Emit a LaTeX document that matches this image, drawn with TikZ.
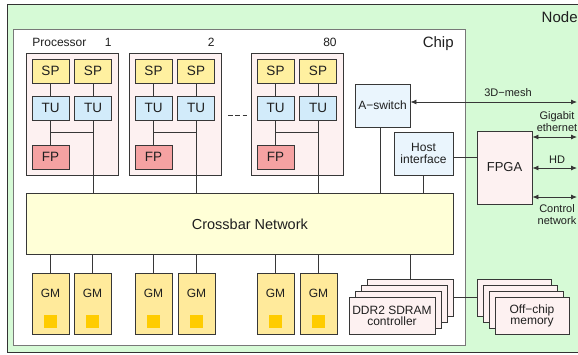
\documentclass[tikz,border=0pt]{standalone}
\usepackage{fontspec}
\setmainfont{Liberation Sans}
\usetikzlibrary{arrows.meta}

\definecolor{nodebg}{RGB}{214,250,214}
\definecolor{chipline}{RGB}{120,120,120}
\definecolor{drawline}{RGB}{55,55,55}
\definecolor{procbg}{RGB}{253,241,241}
\definecolor{spfill}{RGB}{255,240,160}
\definecolor{tufill}{RGB}{210,235,250}
\definecolor{fpfill}{RGB}{245,162,162}
\definecolor{iffill}{RGB}{234,245,253}
\definecolor{xbarfill}{RGB}{255,255,215}
\definecolor{gmfill}{RGB}{255,234,155}
\definecolor{dotfill}{RGB}{255,204,0}

\begin{document}
\begin{tikzpicture}[x=1pt,y=-1pt,line width=0.8pt,draw=drawline,
    >={Latex[length=6pt,width=5pt]},
    box/.style={draw=drawline,inner sep=0pt,align=center},
    unit/.style={box,minimum width=37pt,minimum height=24pt,font=\fontsize{13.5}{14}\selectfont},
    txt/.style={inner sep=0pt,font=\fontsize{12}{12.5}\selectfont},
    small/.style={inner sep=0pt,align=center,font=\fontsize{11}{12}\selectfont}
]
\tikzstyle{every node}=[text=black!88]

\useasboundingbox (0,0) rectangle (578,354);
\clip (0,0) rectangle (578,354);

% node and chip
\node[box,draw=black!80,fill=nodebg,anchor=north west,minimum width=600pt,minimum height=348pt] (node) at (7,4) {};
\node[txt,font=\fontsize{15}{15}\selectfont,anchor=base east] (nodename) at (578,22) {Node};
\node[box,draw=chipline,fill=white,anchor=north west,minimum width=452pt,minimum height=316pt] (chip) at (13,29) {};
\node[txt,font=\fontsize{15}{15}\selectfont,anchor=base east] (chipname) at (454,47.5) {Chip};

% crossbar
\node[box,fill=xbarfill,anchor=north west,minimum width=427pt,minimum height=61pt] (xbar) at (26,193) {};
\node[txt,font=\fontsize{14.5}{15}\selectfont] (xbarname) at ([xshift=10pt]xbar.center) {Crossbar Network};

% processors
\node[txt,anchor=base west] (procname) at (32,46.5) {Processor};
\foreach \L/\n/\id in {26/1/a,129/2/b,251/80/c} {
    \node[box,fill=procbg,anchor=north west,minimum width=92pt,minimum height=122pt] (proc\id) at (\L,53) {};
    \node[txt,anchor=base east] (num\id) at (\L+86,46.5) {\n};
    \node[unit,fill=spfill] (spa\id) at (\L+24.5,71) {SP};
    \node[unit,fill=spfill] (spb\id) at (\L+67,71) {SP};
    \node[unit,fill=tufill] (tua\id) at (\L+24.5,108) {TU};
    \node[unit,fill=tufill] (tub\id) at (\L+67,108) {TU};
    \node[unit,fill=fpfill] (fp\id) at (\L+24.5,157) {FP};
    \draw (spa\id) -- (tua\id);
    \draw (spb\id) -- (tub\id);
    \draw (tua\id) -- (fp\id);
    \draw (tua\id.south) ++(0,12) -| (tub\id.south);
    \draw (tub\id) -- (tub\id |- xbar.north);
}
\coordinate (dotsa) at (228,115);
\coordinate (dotsb) at (247,115);
\draw[dash pattern=on 4.5pt off 2.75pt] (dotsa) -- (dotsb);

% global memories
\foreach \x [count=\i] in {50.5,92.5,153.5,196.5,275.5,318.5} {
    \node[box,fill=gmfill,minimum width=37pt,minimum height=61pt] (gm\i) at (\x,303.5) {};
    \node[txt] (gmname\i) at (\x,293) {GM};
    \node[fill=dotfill,inner sep=0pt,minimum size=13pt] (gmdot\i) at (\x,321.5) {};
    \draw (gm\i) -- (gm\i |- xbar.south);
}

% switch and host side
\node[box,fill=iffill,minimum width=55pt,minimum height=43pt,font=\fontsize{12}{12.5}\selectfont] (aswitch) at (382.5,105.5) {A−switch};
\node[box,fill=iffill,minimum width=59pt,minimum height=43pt,font=\fontsize{12}{12.5}\selectfont] (host) at (423.5,153.5) {Host\\interface};
\node[box,fill=procbg,minimum width=55pt,minimum height=73pt,font=\fontsize{13}{13.5}\selectfont] (fpga) at (504.5,167.5) {FPGA};
\draw ([xshift=-2.5pt]aswitch.south) -- ([xshift=-2.5pt]aswitch.south |- xbar.north);
\draw (host) -- (host |- xbar.north);
\draw ([yshift=-3.5pt]host.east) -- ([yshift=-3.5pt]host.east -| fpga.west);

% external links
\coordinate (meshend) at (577,102);
\coordinate (gbend) at (577,137);
\coordinate (hdend) at (577,168);
\coordinate (ctrlend) at (577,197);
\draw[<->] (aswitch.east |- meshend) -- (meshend);
\draw[<->] (fpga.east |- gbend) -- (gbend);
\draw[<->] (fpga.east |- hdend) -- (hdend);
\draw[<->] (fpga.east |- ctrlend) -- (ctrlend);
\node[small,anchor=base] (meshname) at (508,96) {3D−mesh};
\node[small] (gbname) at (557,121.5) {Gigabit\\ethernet};
\node[small,anchor=base] (hdname) at (557,163.3) {HD};
\node[small] (ctrlname) at (557,214.3) {Control\\network};

% memory controllers and off-chip memory
\foreach \k in {3,2,1} {
    \node[box,fill=procbg,minimum width=86pt,minimum height=37pt] (ddr\k) at (392+6*\k,315.5-6*\k) {};
}
\node[box,fill=procbg,minimum width=86pt,minimum height=37pt,font=\fontsize{12}{11}\selectfont] (ddr0) at (392,315.5) {DDR2 SDRAM\\controller};
\foreach \k in {3,2,1} {
    \node[box,fill=procbg,minimum width=74pt,minimum height=37pt] (mem\k) at (532-6*\k,315.5-6*\k) {};
}
\node[box,fill=procbg,minimum width=74pt,minimum height=37pt,font=\fontsize{12}{11}\selectfont] (mem0) at (532,315.5) {Off−chip\\memory};
\draw (ddr3) -- (ddr3 |- xbar.south);
\draw (ddr3.east) -- (mem3.west);

\end{tikzpicture}
\end{document}
